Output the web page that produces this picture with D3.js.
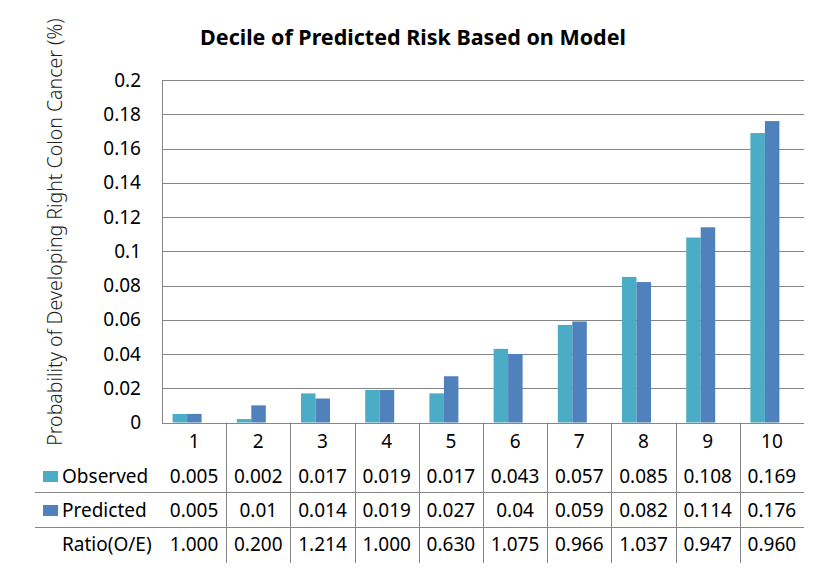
<!DOCTYPE html>
<html><head><meta charset="utf-8">
<script src="https://cdn.jsdelivr.net/npm/d3@7"></script>
<style>body{margin:0;background:#fff}svg{display:block}</style>
</head><body>
<script>
const categories = ["1","2","3","4","5","6","7","8","9","10"];
const observed = [0.005,0.002,0.017,0.019,0.017,0.043,0.057,0.085,0.108,0.169];
const predicted = [0.005,0.01,0.014,0.019,0.027,0.04,0.059,0.082,0.114,0.176];
const observedLabels = ["0.005","0.002","0.017","0.019","0.017","0.043","0.057","0.085","0.108","0.169"];
const predictedLabels = ["0.005","0.01","0.014","0.019","0.027","0.04","0.059","0.082","0.114","0.176"];
const ratioLabels = ["1.000","0.200","1.214","1.000","0.630","1.075","0.966","1.037","0.947","0.960"];
const yTicks = [0,0.02,0.04,0.06,0.08,0.1,0.12,0.14,0.16,0.18,0.2];
const yTickLabels = ["0","0.02","0.04","0.06","0.08","0.1","0.12","0.14","0.16","0.18","0.2"];
const seriesNames = ["Observed","Predicted"];
const colors = ["#4BACC6","#4F81BD"];

(function(){
const W=827,H=573;
const font = "'Noto Sans', sans-serif";
const svg = d3.select("body").append("svg").attr("width",W).attr("height",H).style("font-family",font);

const pLeft=162,pRight=804,pTop=80,zero=422.5;
const x = d3.scaleBand().domain(categories).range([pLeft,pRight]).paddingInner(0).paddingOuter(0);
const y = d3.scaleLinear().domain([0,0.2]).range([zero,pTop]);

svg.append("g").selectAll("line").data(yTicks).join("line")
  .attr("x1",pLeft).attr("x2",pRight).attr("y1",d=>Math.round(y(d))+0.5).attr("y2",d=>Math.round(y(d))+0.5)
  .attr("stroke","#868686").attr("stroke-width",1);
svg.append("line").attr("x1",pLeft+0.5).attr("x2",pLeft+0.5).attr("y1",pTop).attr("y2",zero+0.5).attr("stroke","#868686");

svg.append("g").selectAll("text").data(yTicks).join("text")
  .attr("x",pLeft-21).attr("y",d=>y(d)).attr("dy","0.35em").attr("text-anchor","end")
  .attr("font-size",19).attr("fill","#000").text((d,i)=>yTickLabels[i]);

const bw = 14.5;
const offset = -7;
const g = svg.append("g");
[observed,predicted].forEach((vals,si)=>{
  g.selectAll(".b"+si).data(vals).join("rect").attr("class","b"+si)
    .attr("x",(d,i)=>x(categories[i])+x.bandwidth()/2+offset-bw+si*bw)
    .attr("width",bw)
    .attr("y",d=>y(d)).attr("height",d=>zero-y(d))
    .attr("fill",colors[si]);
});

svg.append("text").attr("x",413).attr("y",45).attr("text-anchor","middle")
  .attr("font-size",21.5).attr("font-weight","bold").attr("fill","#000")
  .text("Decile of Predicted Risk Based on Model");

svg.append("text").attr("transform","translate(62,232) rotate(-90)").attr("text-anchor","middle")
  .attr("font-size",19.5).attr("font-weight",300).attr("fill","#222")
  .text("Probability of Developing Right Colon Cancer (%)");

const rowY = [441,476,510,544];
const lineY = [492.5,527.5];
svg.append("g").selectAll("line").data(categories.slice(1)).join("line")
  .attr("x1",d=>Math.round(x(d))+0.5).attr("x2",d=>Math.round(x(d))+0.5)
  .attr("y1",zero).attr("y2",563).attr("stroke","#868686");
svg.append("g").selectAll("line").data(lineY).join("line")
  .attr("x1",35).attr("x2",pRight).attr("y1",d=>d).attr("y2",d=>d).attr("stroke","#868686");

svg.append("g").selectAll("text").data(categories).join("text")
  .attr("x",d=>x(d)+x.bandwidth()/2).attr("y",rowY[0]).attr("dy","0.35em").attr("text-anchor","middle")
  .attr("font-size",19).text(d=>d);

const rows=[observedLabels,predictedLabels,ratioLabels];
rows.forEach((labs,ri)=>{
  svg.append("g").selectAll("text").data(labs).join("text")
    .attr("x",(d,i)=>x(categories[i])+x.bandwidth()/2).attr("y",rowY[ri+1]).attr("dy","0.35em")
    .attr("text-anchor","middle").attr("font-size",19).text(d=>d);
});
seriesNames.forEach((n,i)=>{
  svg.append("rect").attr("x",43).attr("y",rowY[i+1]-5).attr("width",15).attr("height",11).attr("fill",colors[i]);
  svg.append("text").attr("x",62).attr("y",rowY[i+1]).attr("dy","0.35em").attr("font-size",19).text(n);
});
svg.append("text").attr("x",62).attr("y",rowY[3]).attr("dy","0.35em").attr("font-size",19).text("Ratio(O/E)");
})();
</script>
</body></html>
